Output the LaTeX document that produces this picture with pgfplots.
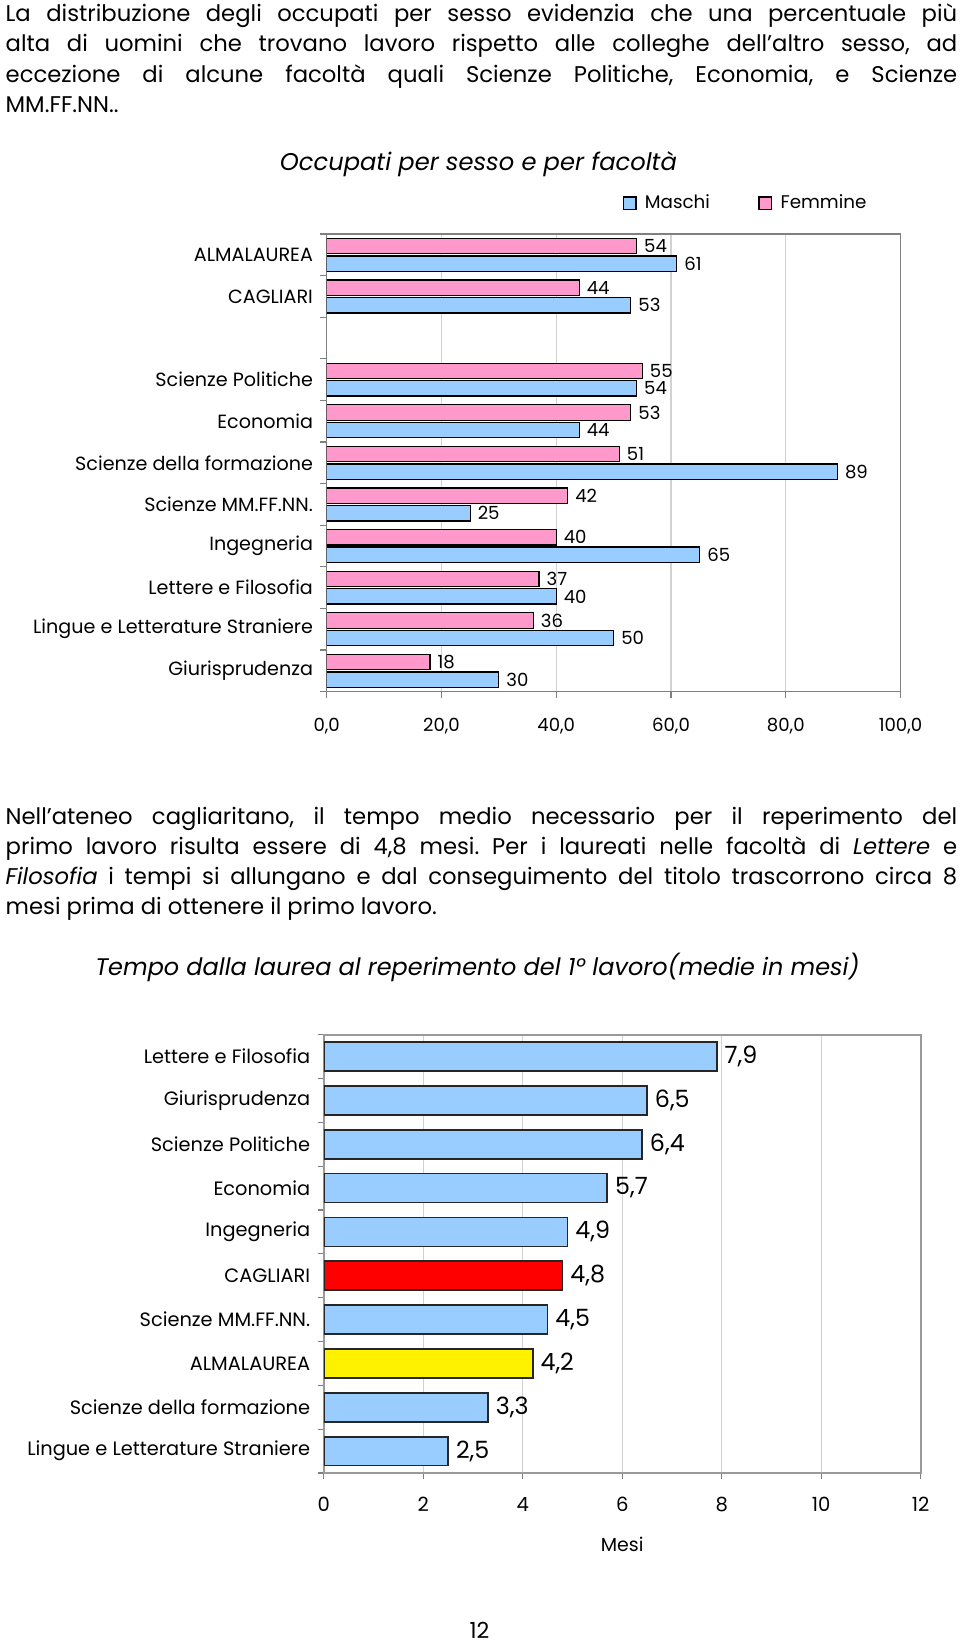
\documentclass[border=0pt]{standalone}
\usepackage{fontspec}
\setmainfont{Poppins}
\usepackage{pgfplots}
\usepackage{pgfplotstable}
\pgfplotsset{compat=1.18}

\definecolor{masblue}{RGB}{153,204,255}
\definecolor{fempink}{RGB}{255,153,204}
\definecolor{axgray}{RGB}{128,128,128}
\definecolor{gridgray}{RGB}{210,210,210}

\pgfplotsset{/pgf/number format/assume math mode=true}

% occupati per sesso (percentuali), posizione 2 vuota
\pgfplotstableread{
pos fem mas
0 54 61
1 44 53
3 55 54
4 53 44
5 51 89
6 42 25
7 40 65
8 37 40
9 36 50
10 18 30
}\occupati

% tempo medio al primo lavoro (mesi)
\pgfplotstableread{
pos val
0 7.9
1 6.5
2 6.4
3 5.7
4 4.9
6 4.5
8 3.3
9 2.5
}\tempoblu
\pgfplotstableread{
pos val
5 4.8
}\temporosso
\pgfplotstableread{
pos val
7 4.2
}\tempogiallo

\begin{document}
\frenchspacing
\begin{tikzpicture}
\begin{scope}[x=0.5pt,y=-0.5pt]
\path[use as bounding box] (0,0) rectangle (913,1567.4);

\node[anchor=north west, inner sep=0pt, text width=452.5pt, align=justify,
  font={\fontsize{10.8}{14.5}\selectfont}] at (5,3)
  {La distribuzione degli occupati per sesso evidenzia che una percentuale più\linebreak
   alta di uomini che trovano lavoro rispetto alle colleghe dell’altro sesso, ad\linebreak
   eccezione di alcune facoltà quali Scienze Politiche, Economia, e Scienze\linebreak
   MM.FF.NN..};

\node[font={\fontsize{11.5}{13}\selectfont\itshape}] at (455,156) {Occupati per sesso e per facoltà};

\node[anchor=north west, inner sep=0pt, text width=452.5pt, align=justify,
  font={\fontsize{10.8}{14.4}\selectfont}] at (5,767)
  {Nell’ateneo cagliaritano, il tempo medio necessario per il reperimento del\linebreak
   primo lavoro risulta essere di 4,8 mesi. Per i laureati nelle facoltà di \textit{Lettere} e\linebreak
   \textit{Filosofia} i tempi si allungano e dal conseguimento del titolo trascorrono circa 8\linebreak
   mesi prima di ottenere il primo lavoro.};

\node[font={\fontsize{11.4}{13}\selectfont\itshape}] at (454,920)
  {Tempo dalla laurea al reperimento del 1° lavoro(medie in mesi)};

\node[inner sep=0pt, font={\fontsize{10.5}{12}\selectfont}] at (456,1551) {12};
\end{scope}

% grafico 1: occupati per sesso
\begin{axis}[
  at={(155.35pt,-328.9pt)}, anchor=south west,
  width=272.9pt, height=217.6pt, scale only axis,
  xbar, xmin=0, xmax=100, ymin=-0.5, ymax=10.5, y dir=reverse,
  axis line style={axgray, line width=0.6pt},
  tick style={axgray, line width=0.6pt},
  tick align=outside, xtick pos=bottom, ytick pos=left,
  major tick length=3pt, minor tick length=3pt,
  xtick={0,20,...,100},
  xticklabel style={font={\fontsize{8.6}{10}\selectfont}, yshift=-6pt,
    /pgf/number format/.cd, fixed, fixed zerofill, precision=1, use comma},
  xmajorgrids, grid style={gridgray, line width=0.5pt},
  ytick={0,1,3,4,5,6,7,8,9,10},
  yticklabels={ALMALAUREA, CAGLIARI, Scienze Politiche, Economia,
    Scienze della formazione, Scienze MM.FF.NN., Ingegneria,
    Lettere e Filosofia, Lingue e Letterature Straniere, Giurisprudenza},
  major y tick style={draw=none},
  minor ytick={-0.5,0.5,...,10.5},
  yticklabel style={font={\fontsize{9.1}{10}\selectfont}, xshift=0pt},
  bar width=0.37,
  nodes near coords,
  every node near coord/.append style={font={\fontsize{8.6}{10}\selectfont}, black},
  legend columns=2,
  legend style={at={(rel axis cs:0.515,1.067)}, anchor=west, draw=none,
    fill=none, font={\fontsize{8.7}{10}\selectfont}, inner sep=0pt,
    /tikz/every odd column/.append style={column sep=2pt},
    /tikz/every even column/.append style={column sep=21pt}},
  legend image code/.code={\draw[#1, line width=0.6pt] (0pt,-3pt) rectangle (6pt,3pt);},
]
\addplot[fill=masblue, draw=black, line width=0.6pt, bar shift=0.21]
  table[x=mas, y=pos] {\occupati};
\addplot[fill=fempink, draw=black, line width=0.6pt, bar shift=-0.21]
  table[x=fem, y=pos] {\occupati};
\legend{Maschi, Femmine}
\end{axis}

% grafico 2: tempo al primo lavoro
\begin{axis}[
  at={(154pt,-700.5pt)}, anchor=south west,
  width=283.8pt, height=208.5pt, scale only axis,
  xbar, xmin=0, xmax=12, ymin=-0.5, ymax=9.5, y dir=reverse,
  axis line style={axgray!80, line width=1pt},
  tick style={axgray, line width=0.6pt},
  tick align=outside, xtick pos=bottom, ytick pos=left,
  major tick length=3pt, minor tick length=3pt,
  xtick={0,2,...,12},
  xticklabel style={font={\fontsize{9.3}{10}\selectfont}, yshift=-5pt},
  xmajorgrids, grid style={gridgray, line width=0.5pt},
  xlabel={Mesi},
  xlabel style={font={\fontsize{9}{10}\selectfont}, yshift=-5pt},
  ytick={0,...,9},
  yticklabels={Lettere e Filosofia, Giurisprudenza, Scienze Politiche, Economia,
    Ingegneria, CAGLIARI, Scienze MM.FF.NN., ALMALAUREA,
    Scienze della formazione, Lingue e Letterature Straniere},
  major y tick style={draw=none},
  minor ytick={-0.5,0.5,...,9.5},
  yticklabel style={font={\fontsize{9.2}{10}\selectfont}, xshift=0pt},
  bar width=0.66, bar shift=0pt,
  nodes near coords={\pgfmathprintnumber[fixed,fixed zerofill,precision=1,use comma]{\pgfplotspointmeta}},
  every node near coord/.append style={font={\fontsize{11.3}{12}\selectfont}, black},
]
\addplot[fill=masblue, draw=black!85, line width=0.8pt] table[x=val, y=pos] {\tempoblu};
\addplot[fill=red, draw=black!85, line width=0.8pt] table[x=val, y=pos] {\temporosso};
\addplot[fill=yellow, draw=black!85, line width=0.8pt] table[x=val, y=pos] {\tempogiallo};
\end{axis}
\end{tikzpicture}
\end{document}
